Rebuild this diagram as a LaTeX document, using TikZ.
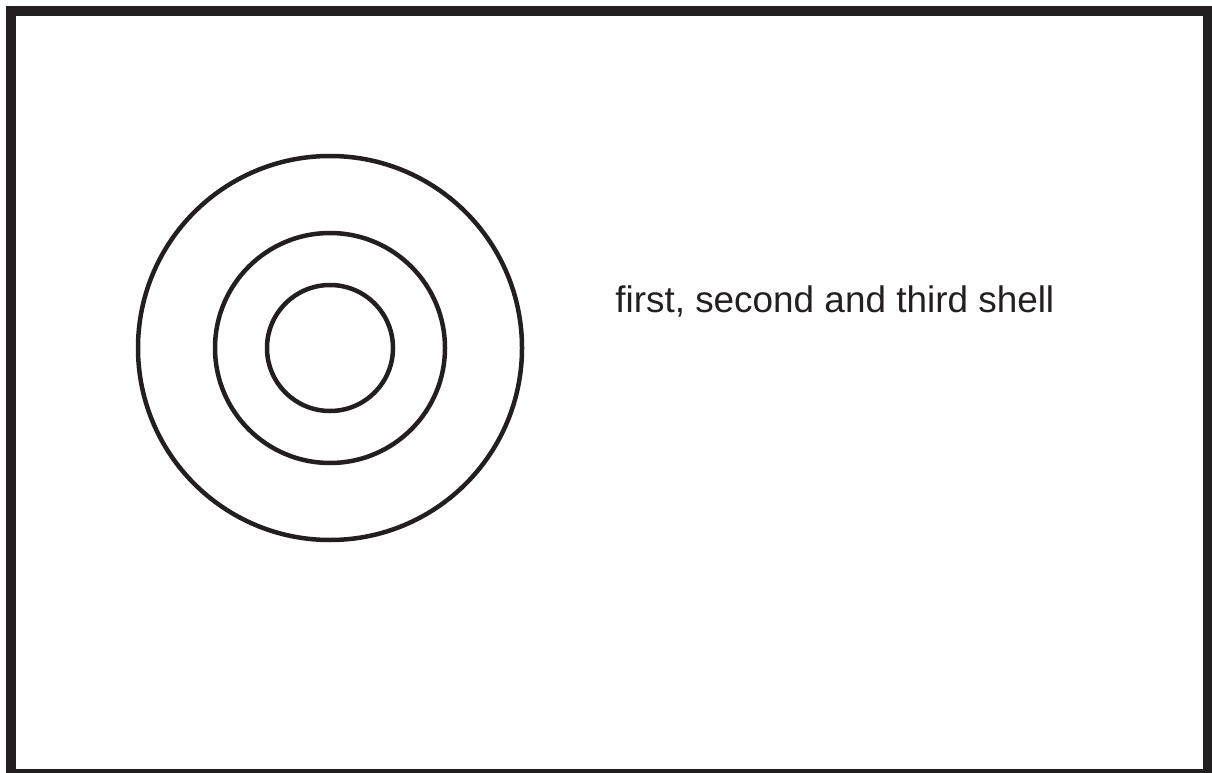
\documentclass[tikz,border=0pt]{standalone}
\usepackage{fontspec}
\setmainfont{Liberation Sans}
\usetikzlibrary{positioning}
\definecolor{ink}{RGB}{35,31,32}

\begin{document}
\begin{tikzpicture}[x=0.02cm, y=-0.02cm,
    shell/.style={ink, line width=0.09cm},
    frame/.style={ink, line width=0.2cm}]

% Page size and outer frame
\useasboundingbox (0,0) rectangle (1212,773);
\clip (0,0) rectangle (1212,773);
\draw[frame] (11,11) rectangle (1208,774);

% Three shells round one centre
\coordinate (centre) at (330,348);
\draw[shell] (centre) circle[radius=63];   % first
\draw[shell] (centre) circle[radius=115];  % second
\draw[shell] (centre) circle[radius=192];  % third

% Caption
\node[ink, font=\fontsize{21}{25}\selectfont, anchor=base west, inner sep=0pt]
    (label) at (615,312) {first, second and third shell};

\end{tikzpicture}
\end{document}
